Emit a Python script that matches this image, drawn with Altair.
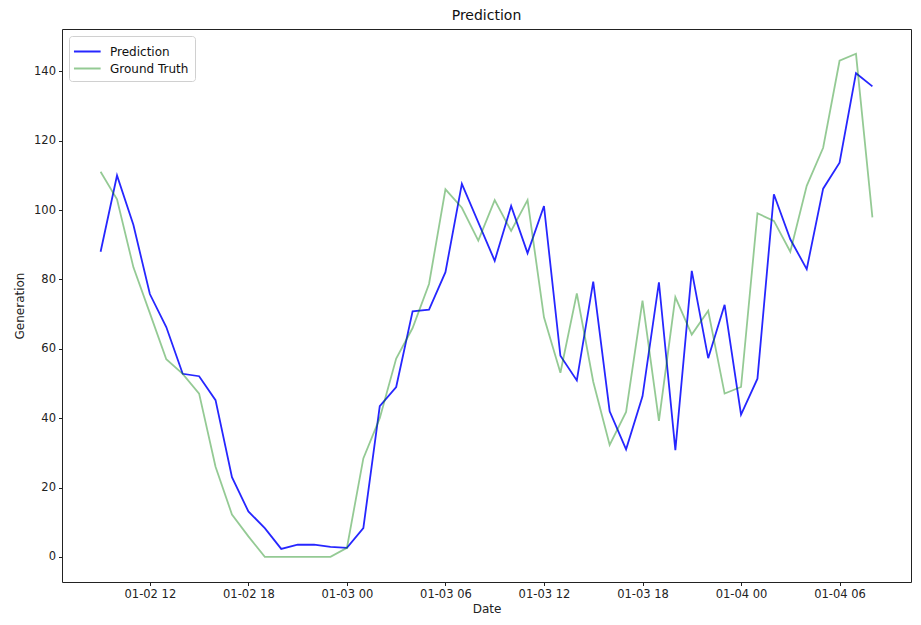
import altair as alt
import pandas as pd

# hourly timestamps from 2023-01-02 09:00 to 2023-01-04 08:00
dates = pd.date_range("2023-01-02 09:00", periods=48, freq="h").strftime("%Y-%m-%dT%H:%M:%S").tolist()

prediction = [88.0, 110.0, 95.7, 75.8, 66.3, 52.8, 52.1, 45.2, 23.0, 13.1,
              8.3, 2.3, 3.5, 3.5, 2.9, 2.6, 8.3, 43.5, 49.0, 70.8,
              71.3, 82.1, 107.6, 96.5, 85.4, 101.2, 87.6, 101.2, 58.0, 50.9,
              79.4, 42.0, 31.0, 46.3, 79.2, 30.8, 82.5, 57.3, 72.7, 41.0,
              51.4, 104.6, 91.6, 83.0, 106.2, 113.7, 139.5, 135.7]

ground_truth = [111.1, 103.1, 83.5, 70.3, 57.0, 52.8, 47.1, 26.0, 12.2, 5.9,
                0.0, 0.0, 0.0, 0.0, 0.0, 2.6, 28.4, 40.0, 57.2, 66.0,
                78.7, 106.0, 100.7, 91.2, 102.9, 94.0, 102.9, 69.1, 53.1, 76.0,
                50.5, 32.3, 41.8, 73.9, 39.2, 74.9, 64.1, 71.0, 47.1, 49.0,
                99.1, 96.9, 88.0, 107.0, 118.0, 143.1, 145.1, 97.9]

series = ["Prediction", "Ground Truth"]
colors = ["rgba(0,0,255,0.85)", "rgba(0,128,0,0.42)"]

x_ticks = [alt.DateTime(year=2023, month=1, date=d, hours=h)
           for d, h in [(2, 12), (2, 18), (3, 0), (3, 6), (3, 12), (3, 18), (4, 0), (4, 6)]]
y_ticks = [0, 20, 40, 60, 80, 100, 120, 140]

df_pred = pd.DataFrame({"Date": dates, "Generation": prediction, "Series": series[0]})
df_gt = pd.DataFrame({"Date": dates, "Generation": ground_truth, "Series": series[1]})

x_enc = alt.X(
    "Date:T",
    title="Date",
    scale=alt.Scale(domain=[alt.DateTime(year=2023, month=1, date=2, hours=6, minutes=39),
                            alt.DateTime(year=2023, month=1, date=4, hours=10, minutes=21)],
                    nice=False),
    axis=alt.Axis(values=x_ticks, format="%m-%d %H", labelAngle=0),
)
y_enc = alt.Y(
    "Generation:Q",
    title="Generation",
    scale=alt.Scale(domain=[-7.25, 152.25], nice=False, zero=False),
    axis=alt.Axis(values=y_ticks),
)
color_enc = alt.Color("Series:N", scale=alt.Scale(domain=series, range=colors),
                      legend=alt.Legend(title=None, orient="top-left"))

pred_line = alt.Chart(df_pred).mark_line(strokeWidth=1.8).encode(
    x=x_enc, y=y_enc, color=color_enc
)
gt_line = alt.Chart(df_gt).mark_line(strokeWidth=1.8).encode(
    x=x_enc, y=y_enc, color=color_enc
)

chart = alt.layer(pred_line, gt_line).properties(
    width=849, height=553,
    title=alt.TitleParams("Prediction", fontSize=14, fontWeight="normal",
                          font="DejaVu Sans", color="#111", offset=6),
    autosize=alt.AutoSizeParams(type="none"),
    padding={"left": 54, "top": 21, "right": 2, "bottom": 33},
).configure_view(
    stroke="#222", strokeWidth=1
).configure_axis(
    grid=False, domain=False,
    labelFont="DejaVu Sans", titleFont="DejaVu Sans",
    labelFontSize=11.5, titleFontSize=12, titleFontWeight="normal",
    labelColor="#222", titleColor="#222",
    tickColor="#222", tickSize=3.5, labelPadding=3,
).configure_axisY(
    titlePadding=7
).configure_axisX(
    titlePadding=3
).configure_legend(
    labelFont="DejaVu Sans", labelFontSize=12, labelColor="#111",
    symbolType="M-1.24,0L1.9,0", symbolStrokeWidth=2, symbolSize=289,
    fillColor="white", strokeColor="#d0d0d0", cornerRadius=3,
    padding=6, offset=7, rowPadding=1, labelOffset=16,
)

chart.save("out.html", embed_options={"renderer": "svg", "actions": False})
